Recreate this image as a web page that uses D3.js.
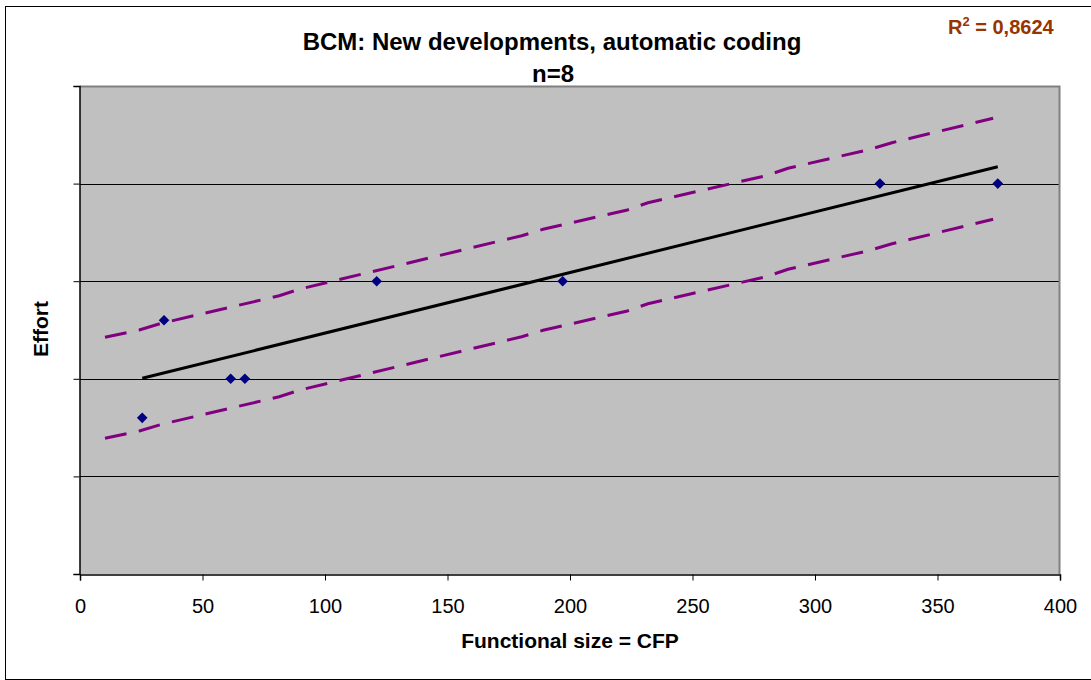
<!DOCTYPE html>
<html>
<head>
<meta charset="utf-8">
<script src="https://cdn.jsdelivr.net/npm/d3@7"></script>
<style>
  html, body { margin: 0; padding: 0; background: #ffffff; }
  svg { display: block; font-family: "Liberation Sans", Arial, sans-serif; }
</style>
</head>
<body>
<svg id="chart" width="1091" height="680"></svg>
<script>
// ---- data ----
const sizeCFP = [25.4, 34.3, 61.5, 67.3, 121.1, 197.0, 326.5, 374.6];
const effort  = [1.6, 2.6, 2.0, 2.0, 3.0, 3.0, 4.0, 4.0];

const trendX = [25.4, 374.6];
const trendY = [2.005, 4.173];

const bandX      = [10.2, 24.2, 33.3, 81.3, 89.8, 180.3, 189.0, 223.4, 231.8, 280.0, 289.0, 322.4, 331.4, 372.7];
const upperBand  = [2.425, 2.500, 2.569, 2.851, 2.920, 3.466, 3.532, 3.730, 3.804, 4.081, 4.157, 4.351, 4.419, 4.669];
const lowerBand  = [1.390, 1.465, 1.534, 1.816, 1.885, 2.431, 2.497, 2.695, 2.769, 3.046, 3.122, 3.316, 3.384, 3.634];

const xTicks = [0, 50, 100, 150, 200, 250, 300, 350, 400];
const yTicks = [0, 1, 2, 3, 4, 5];

const titleText = "BCM: New developments, automatic coding";
const subtitleText = "n=8";
const xLabel = "Functional size = CFP";
const yLabel = "Effort";
const r2Value = "0,8624";

// ---- drawing ----
const svg = d3.select("#chart");
const L = 80, R = 1060, T = 86, B = 574;
const x = d3.scaleLinear().domain([0, 400]).range([L, R]);
const y = d3.scaleLinear().domain([0, 5]).range([B, T]);

// outer chart border
svg.append("rect")
  .attr("x", 5.5).attr("y", 6.5).attr("width", 1090).attr("height", 673)
  .attr("fill", "#ffffff").attr("stroke", "#000000").attr("stroke-width", 1);

// plot area
svg.append("rect")
  .attr("x", L).attr("y", T).attr("width", R - L).attr("height", B - T)
  .attr("fill", "#C0C0C0");

// gridlines
svg.append("g").selectAll("line")
  .data(yTicks.filter(d => d > 0 && d < 5))
  .join("line")
  .attr("x1", L).attr("x2", R)
  .attr("y1", d => Math.round(y(d)) + 0.5).attr("y2", d => Math.round(y(d)) + 0.5)
  .attr("stroke", "#000000").attr("stroke-width", 1);

// plot border top/right grey
svg.append("path")
  .attr("d", `M${L},${T + 0.5}H${R - 0.5}V${B}`)
  .attr("fill", "none").attr("stroke", "#808080").attr("stroke-width", 2);

// x axis
const xAxis = svg.append("g")
  .attr("transform", `translate(0,${B + 0.5})`)
  .call(d3.axisBottom(x).tickValues(xTicks).tickSize(6).tickPadding(18).tickFormat(d3.format("d")));
xAxis.select(".domain").attr("stroke", "#000000").attr("stroke-width", 1.5);
xAxis.selectAll(".tick line").attr("stroke", "#000000");
xAxis.selectAll("text").attr("font-size", 20).attr("fill", "#000000")
  .attr("font-family", "'Liberation Sans', Arial, sans-serif");

// y axis (no labels)
const yAxis = svg.append("g")
  .attr("transform", `translate(${L - 0.5},0)`)
  .call(d3.axisLeft(y).tickValues(yTicks).tickSize(6).tickFormat(""));
yAxis.select(".domain").attr("stroke", "#000000").attr("stroke-width", 1.5);
yAxis.selectAll(".tick line").attr("stroke", "#000000");

// bands
const bandLine = d3.line().x(d => x(d[0])).y(d => y(d[1]));
[upperBand, lowerBand].forEach(arr => {
  svg.append("path")
    .datum(bandX.map((v, i) => [v, arr[i]]))
    .attr("d", bandLine)
    .attr("fill", "none")
    .attr("stroke", "#800080")
    .attr("stroke-width", 3)
    .attr("stroke-dasharray", "22,12.5");
});

// trend line
svg.append("path")
  .datum(trendX.map((v, i) => [v, trendY[i]]))
  .attr("d", bandLine)
  .attr("fill", "none").attr("stroke", "#000000").attr("stroke-width", 3);

// points
svg.append("g").selectAll("path")
  .data(sizeCFP.map((v, i) => [v, effort[i]]))
  .join("path")
  .attr("transform", d => `translate(${x(d[0])},${y(d[1])})`)
  .attr("d", d3.symbol().type(d3.symbolDiamond2).size(72))
  .attr("fill", "#000080");

// titles
svg.append("text")
  .attr("x", 552).attr("y", 50).attr("text-anchor", "middle")
  .attr("font-size", 24).attr("font-weight", "bold").attr("fill", "#000000")
  .text(titleText);
svg.append("text")
  .attr("x", 553).attr("y", 82).attr("text-anchor", "middle")
  .attr("font-size", 24).attr("font-weight", "bold").attr("fill", "#000000")
  .text(subtitleText);

// axis titles
svg.append("text")
  .attr("x", 570).attr("y", 648).attr("text-anchor", "middle")
  .attr("font-size", 21).attr("font-weight", "bold").attr("fill", "#000000")
  .text(xLabel);
svg.append("text")
  .attr("transform", "translate(48,329) rotate(-90)")
  .attr("text-anchor", "middle")
  .attr("font-size", 21).attr("font-weight", "bold").attr("fill", "#000000")
  .text(yLabel);

// R² label
const r2 = svg.append("text")
  .attr("x", 948).attr("y", 33.5)
  .attr("font-size", 20).attr("font-weight", "bold").attr("fill", "#993300");
r2.append("tspan").text("R");
r2.append("tspan").attr("font-size", 13).attr("dy", -8).text("2");
r2.append("tspan").attr("dy", 8).text(" = " + r2Value);
</script>
</body>
</html>
